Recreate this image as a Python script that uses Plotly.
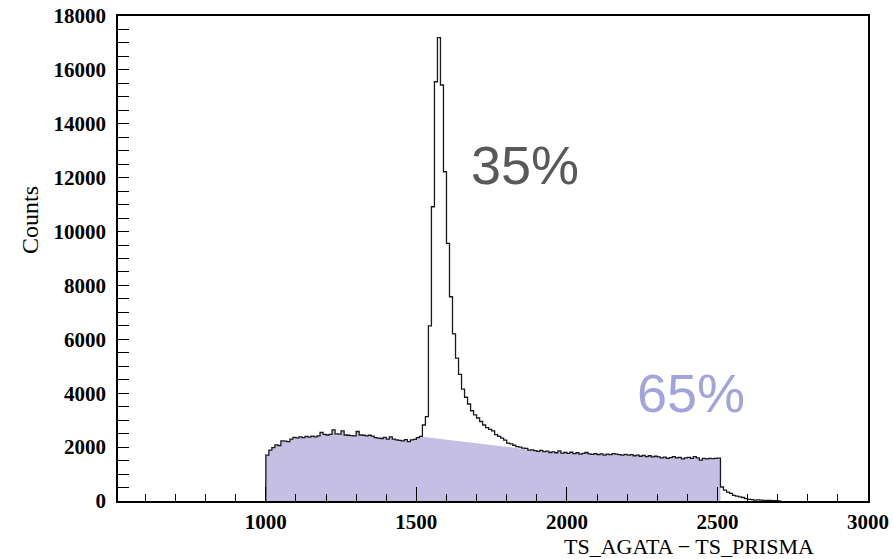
import numpy as np
import plotly.graph_objects as go

# ---------------- data ----------------
bin_start = 1000
bin_width = 10

counts_left = [1700, 1890, 1980, 2080, 2060, 2230, 2220, 2200, 2300, 2360,
               2340, 2380, 2350, 2400, 2370, 2410, 2380, 2420, 2550, 2470,
               2450, 2470, 2640, 2490, 2480, 2600, 2450, 2440, 2430, 2420,
               2580, 2450, 2440, 2420, 2440, 2410, 2350, 2330, 2320, 2360,
               2300, 2380, 2300, 2270, 2250, 2230, 2280, 2200, 2270, 2290,
               2350, 2400]                                   # 1000 .. 1510
counts_peak = [2820, 3130, 6500, 10920, 15560, 17200, 15440, 12220, 9560, 7580]  # 1520 .. 1610
counts_decay = [6200, 5300, 4700, 4150, 3850, 3600, 3350, 3200, 3080, 2950,
                2820, 2720, 2660, 2600, 2460, 2400, 2330, 2260, 2150, 2120,
                2070, 2020, 2000, 1960, 1950, 1890, 1900, 1870]  # 1620 .. 1890
counts_flat = [1840, 1880, 1830, 1850, 1800, 1820, 1790, 1860, 1780, 1800,
               1770, 1810, 1760, 1790, 1740, 1770, 1800, 1750, 1730, 1760,
               1720, 1750, 1700, 1740, 1720, 1760, 1740, 1720, 1700, 1730,
               1700, 1720, 1680, 1700, 1660, 1690, 1650, 1680, 1640, 1660,
               1640, 1600, 1630, 1580, 1610, 1650, 1600, 1620, 1560, 1600,
               1620, 1580, 1650, 1600, 1520, 1580, 1560, 1580, 1570, 1580,
               1590]                                         # 1900 .. 2500
counts_tail = [520, 400, 330, 280, 210, 180, 150, 130, 90, 60,
               50, 35, 40, 30, 25, 20, 25, 10, 15, 5]        # 2510 .. 2700

# background estimate (straight line under the peak) and shaded range
bg_line_x = [1520, 1880]
bg_line_y = [2380, 1900]
shade_end = 2510

x_range = [509, 3000]
y_range = [0, 18000]
x_title = "TS_AGATA \u2212 TS_PRISMA"
y_title = "Counts"
label_peak = "35%"
label_bg = "65%"

# ---------------- build ----------------
counts = counts_left + counts_peak + counts_decay + counts_flat + counts_tail
n = len(counts)
edges = bin_start + bin_width * np.arange(n + 1)

# histogram outline (step)
hx = [edges[0]] + list(edges[:-1]) + [edges[-1], edges[-1]]
hy = [0] + counts + [counts[-1], 0]

# shaded background polygon
sx, sy = [edges[0]], [0]
for i in range(n):
    lo, hi = edges[i], edges[i + 1]
    if hi <= bg_line_x[0]:
        sx += [lo, hi]; sy += [counts[i], counts[i]]
sx += bg_line_x; sy += bg_line_y
for i in range(n):
    lo, hi = edges[i], edges[i + 1]
    if lo >= bg_line_x[1] and hi <= shade_end:
        sx += [lo, hi]; sy += [counts[i], counts[i]]
sx += [shade_end]; sy += [0]

fig = go.Figure()
fig.add_trace(go.Scatter(x=sx, y=sy, mode="lines", fill="tozeroy",
                         fillcolor="#c6bfe4", line=dict(width=0, color="#c6bfe4"),
                         hoverinfo="skip", showlegend=False))
fig.add_trace(go.Scatter(x=hx, y=hy, mode="lines", line_shape="hv",
                         line=dict(color="#1a1a1a", width=1.3),
                         showlegend=False))

tick_font = dict(family="Liberation Serif", size=21, color="black", weight="bold")

fig.update_xaxes(range=x_range, showgrid=False, zeroline=False, automargin=False,
                 showline=True, linecolor="black", linewidth=1.5, mirror=True,
                 ticks="inside", ticklen=14, tickwidth=1, tickcolor="black",
                 dtick=500, tick0=0, tickformat="d", tickfont=tick_font,
                 ticklabelstandoff=1,
                 minor=dict(ticks="inside", ticklen=7, dtick=100, tick0=0,
                            tickcolor="black", tickwidth=1, showgrid=False))
fig.update_yaxes(range=y_range, showgrid=False, zeroline=False, automargin=False,
                 showline=True, linecolor="black", linewidth=1.5, mirror=True,
                 ticks="inside", ticklen=11, tickwidth=1, tickcolor="black",
                 dtick=2000, tick0=0, tickformat="d", tickfont=tick_font,
                 ticklabelstandoff=6,
                 minor=dict(ticks="inside", ticklen=11, dtick=500, tick0=0,
                            tickcolor="black", tickwidth=1, showgrid=False))

L, R, T, B = 118, 25, 16, 58
W, H = 893, 559
pw, ph = W - L - R, H - T - B

def px2paper(x, y):
    return (x - L) / pw, (H - B - y) / ph

ann = []
ax, ay = px2paper(815, 546)
ann.append(dict(x=ax, y=ay, xref="paper", yref="paper", text=x_title,
                showarrow=False, xanchor="right", yanchor="middle", borderpad=0,
                font=dict(family="Liberation Serif", size=22, color="black")))
ax, ay = px2paper(30, 220)
ann.append(dict(x=ax, y=ay, xref="paper", yref="paper", text=y_title,
                showarrow=False, textangle=-90, xanchor="center", yanchor="middle",
                font=dict(family="Liberation Serif", size=24, color="black")))
ax, ay = px2paper(525, 165)
ann.append(dict(x=ax, y=ay, xref="paper", yref="paper", text=label_peak,
                showarrow=False, xanchor="center", yanchor="middle",
                font=dict(family="Liberation Sans", size=54, color="#595959")))
ax, ay = px2paper(691, 393)
ann.append(dict(x=ax, y=ay, xref="paper", yref="paper", text=label_bg,
                showarrow=False, xanchor="center", yanchor="middle",
                font=dict(family="Liberation Sans", size=54, color="#a3a3de")))

fig.update_layout(width=W, height=H, margin=dict(l=L, r=R, t=T, b=B, autoexpand=False),
                  paper_bgcolor="white", plot_bgcolor="white",
                  annotations=ann, showlegend=False)

fig.write_html("out.html")
